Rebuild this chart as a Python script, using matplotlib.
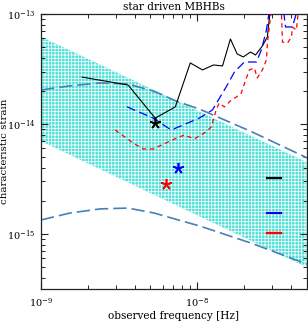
import matplotlib
matplotlib.use("Agg")
import matplotlib.pyplot as plt
from matplotlib.lines import Line2D
from matplotlib.ticker import LogLocator, NullFormatter, FixedLocator

plt.rcParams['font.family'] = ['DejaVu Serif']
plt.rcParams['mathtext.fontset'] = 'dejavuserif'
plt.rcParams['hatch.linewidth'] = 0.6

# ---------------- data ----------------
title = "star driven MBHBs"
xlabel = "observed frequency [Hz]"
ylabel = "characteristic strain"

x_major_ticks = [1e-9, 1e-8]
y_major_ticks = [1e-15, 1e-14, 1e-13]

# PTA-like hatched band (h ~ f^-2/3)
band_f = [1e-9, 5e-8]
band_upper = [6.2e-14, 4.5e-15]
band_lower = [7.0e-15, 5.0e-16]

# steel-blue dashed model curves
model_f = [1.0e-9, 1.53e-9, 2.39e-9, 3.6e-9, 5.3e-9, 7.3e-9, 1.04e-8, 2.19e-8, 5.07e-8]
model_upper = [2.04e-14, 2.22e-14, 2.36e-14, 2.31e-14, 1.98e-14, 1.62e-14, 1.36e-14, 8.6e-15, 4.9e-15]
model_lower = [1.34e-15, 1.55e-15, 1.69e-15, 1.72e-15, 1.55e-15, 1.36e-15, 1.18e-15, 8.3e-16, 5.3e-16]

# black solid sensitivity curve
black_f = [1.83e-9, 3.61e-9, 5.38e-9, 7.23e-9, 9.02e-9, 1.08e-8, 1.27e-8, 1.45e-8,
           1.63e-8, 1.80e-8, 1.97e-8, 2.19e-8, 2.36e-8, 2.61e-8, 2.81e-8, 2.85e-8, 2.94e-8]
black_h = [2.67e-14, 2.26e-14, 1.13e-14, 1.43e-14, 3.59e-14, 3.10e-14, 3.44e-14, 3.37e-14,
           5.93e-14, 4.33e-14, 4.07e-14, 4.51e-14, 4.24e-14, 5.12e-14, 6.18e-14, 7.62e-14, 1.09e-13]

# blue dashed sensitivity curve
blue_f = [3.56e-9, 5.23e-9, 6.81e-9, 1.03e-8, 1.25e-8, 1.53e-8, 1.73e-8, 2.00e-8, 2.39e-8,
          2.57e-8, 2.77e-8, 2.90e-8, 3.2e-8, 3.56e-8, 3.67e-8, 4.06e-8, 4.37e-8]
blue_h = [1.43e-14, 1.13e-14, 8.81e-15, 1.13e-14, 1.34e-14, 2.17e-14, 2.97e-14, 3.66e-14, 3.66e-14,
          4.71e-14, 7.15e-14, 1.09e-13, 2.0e-13, 1.09e-13, 7.62e-14, 7.62e-14, 1.09e-13]

# red dashed sensitivity curve
red_f = [2.98e-9, 3.89e-9, 4.51e-9, 5.23e-9, 6.92e-9, 8.26e-9, 9.58e-9, 1.11e-8, 1.23e-8,
         1.32e-8, 1.38e-8, 1.49e-8, 1.65e-8, 1.78e-8, 1.91e-8, 2.15e-8, 2.32e-8, 2.42e-8,
         2.61e-8, 2.77e-8, 2.81e-8, 2.98e-8, 3.2e-8, 3.45e-8, 3.51e-8, 3.78e-8, 4.01e-8,
         4.06e-8, 4.31e-8, 4.44e-8]
red_h = [8.81e-15, 6.71e-15, 5.93e-15, 5.93e-15, 7.16e-15, 7.94e-15, 7.31e-15, 8.28e-15, 9.39e-15,
         1.34e-14, 1.55e-14, 1.43e-14, 1.65e-14, 1.76e-14, 1.91e-14, 3.10e-14, 3.23e-14, 2.62e-14,
         3.10e-14, 3.82e-14, 5.45e-14, 1.09e-13, 2.0e-13, 1.09e-13, 5.56e-14, 5.45e-14, 6.18e-14,
         7.62e-14, 7.15e-14, 1.09e-13]

# stars (best-sensitivity points)
star_f = [5.38e-9, 7.55e-9, 6.33e-9]
star_h = [1.02e-14, 3.98e-15, 2.85e-15]
colors = ['black', '#0000FF', '#FF0000']

xlim = (1e-9, 5e-8)
ylim = (3.16e-16, 1e-13)

# ---------------- figure ----------------
fig = plt.figure(figsize=(3.08, 3.24), dpi=100)
ax = fig.add_axes([41/308, 1-289/324, 265.5/308, 275/324])
ax.set_xscale('log')
ax.set_yscale('log')

ax.fill_between(band_f, band_lower, band_upper, facecolor='#45E0D6',
                edgecolor='white', hatch='+++++', linewidth=0, zorder=1)

ax.plot(model_f, model_upper, color='#4A7FB8', lw=1.2, dashes=(8, 3), zorder=2)
ax.plot(model_f, model_lower, color='#4A7FB8', lw=1.2, dashes=(8, 3), zorder=2)

ax.plot(black_f, black_h, color='black', lw=0.8, zorder=3)
ax.plot(blue_f, blue_h, color=colors[1], lw=0.9, dashes=(7, 3.5), zorder=3)
ax.plot(red_f, red_h, color=colors[2], lw=0.9, dashes=(3.5, 3), zorder=3)

for f, h, c in zip(star_f, star_h, colors):
    ax.plot([f], [h], marker=(5, 2, 0), color=c, ms=8, mew=1.2, linestyle='none', zorder=4)

# legend handles (no labels), one per curve
leg_y = [0.40, 0.273, 0.20]
for c, yy in zip(colors, leg_y):
    leg = ax.legend([Line2D([], [], color=c, lw=1.6)], [''], loc='center',
                    bbox_to_anchor=(0.879, yy), frameon=False, handlelength=1.45,
                    handletextpad=0, borderpad=0, borderaxespad=0, fontsize=7)
    ax.add_artist(leg)

ax.set_xlim(*xlim)
ax.set_ylim(*ylim)

ax.xaxis.set_major_locator(FixedLocator(x_major_ticks))
ax.yaxis.set_major_locator(FixedLocator(y_major_ticks))
ax.xaxis.set_minor_locator(LogLocator(base=10, subs=range(2, 10), numticks=20))
ax.yaxis.set_minor_locator(LogLocator(base=10, subs=range(2, 10), numticks=20))
ax.xaxis.set_minor_formatter(NullFormatter())
ax.yaxis.set_minor_formatter(NullFormatter())

ax.tick_params(which='both', direction='in', top=True, right=True, color='#222222')
ax.tick_params(which='major', length=5, width=0.8, labelsize=7)
ax.tick_params(which='minor', length=3, width=0.7)
ax.tick_params(axis='y', pad=4)
ax.tick_params(axis='x', pad=5)
for s in ax.spines.values():
    s.set_linewidth(0.9)
    s.set_color('#222222')

ax.set_title(title, fontsize=7.6, pad=3)
ax.set_xlabel(xlabel, fontsize=7.6, labelpad=2)
ax.set_ylabel(ylabel, fontsize=7.4)
ax.yaxis.set_label_coords(-31.5/265.5, 0.5)

fig.savefig('out.png', dpi=100)
